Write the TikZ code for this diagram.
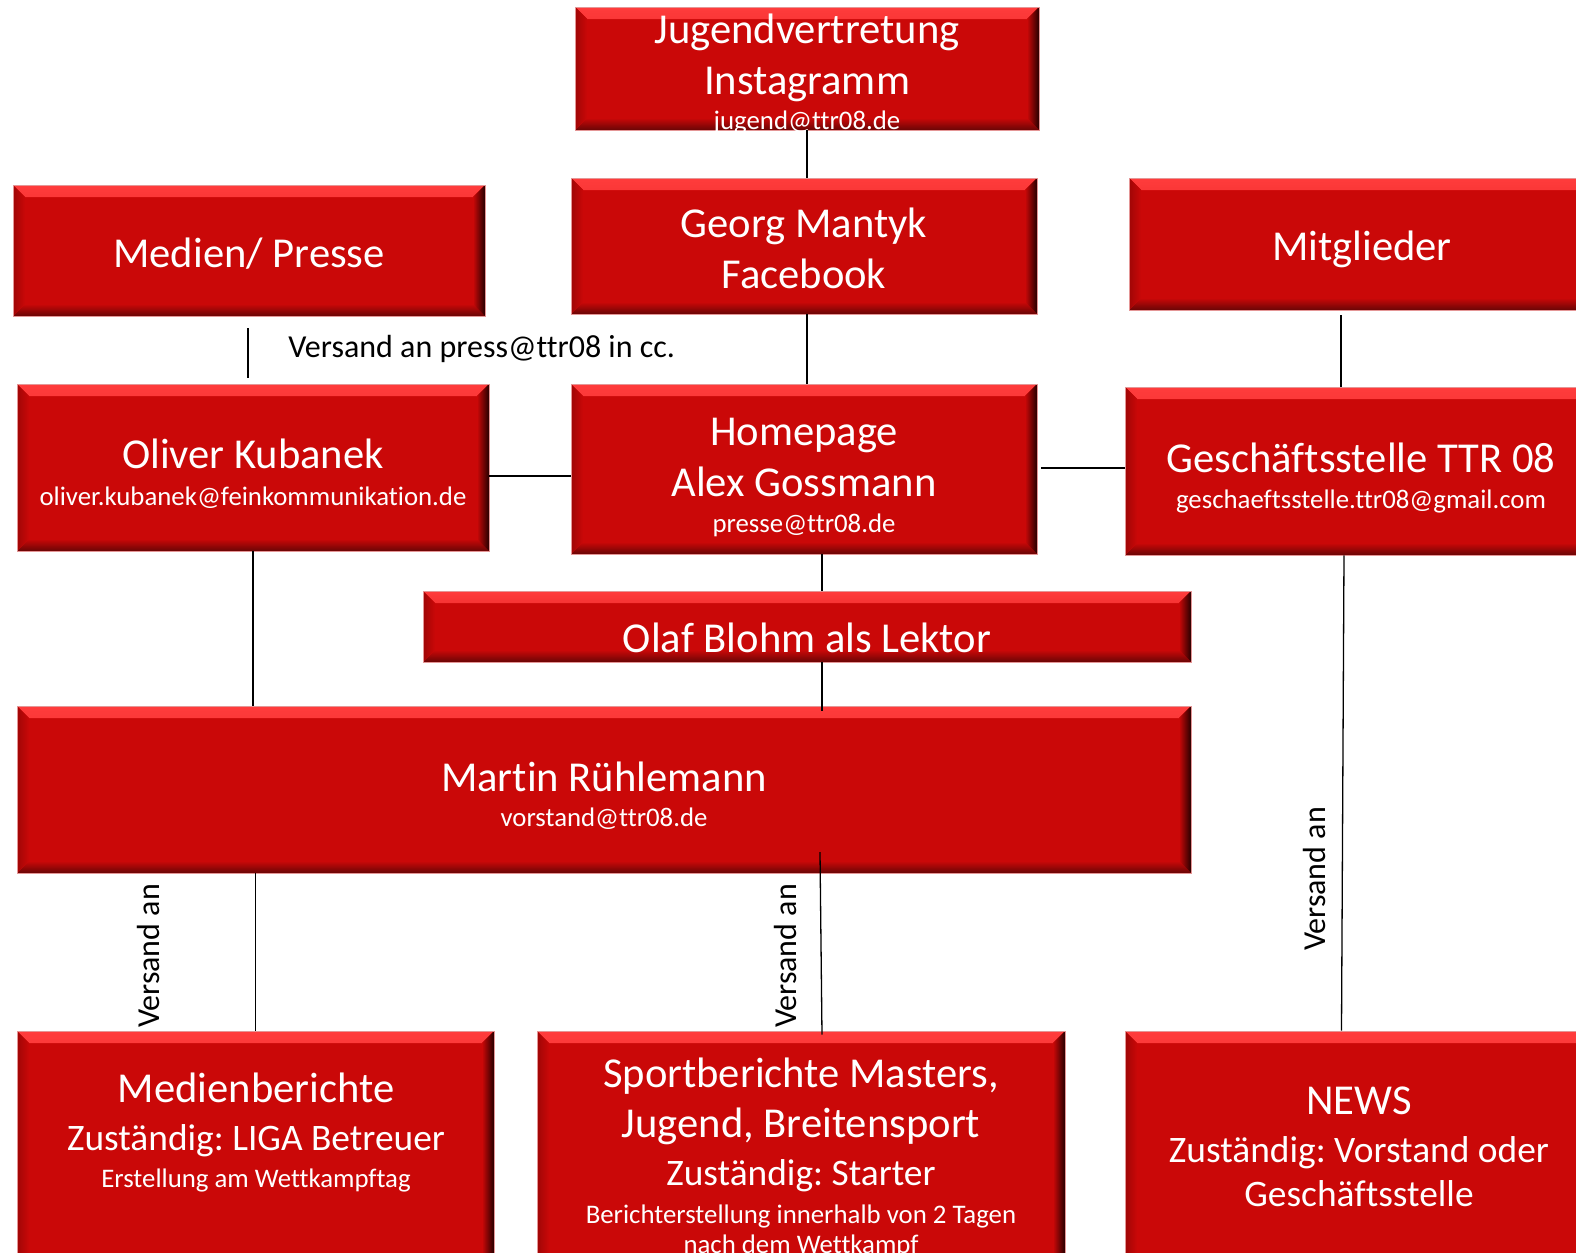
\documentclass[tikz,border=0pt]{standalone}
\usepackage{fontspec}
\setmainfont{Carlito}[Ligatures={NoCommon,NoContextual}]
\usetikzlibrary{calc}
\frenchspacing
\definecolor{boxred}{RGB}{202,8,8}
\definecolor{bevlight}{RGB}{255,60,60}
\definecolor{bevdark}{RGB}{105,5,5}
\definecolor{bevside}{RGB}{160,6,6}
\definecolor{boxedge}{RGB}{228,150,150}
\newcommand\FontL{\fontsize{21.3}{25.5}\selectfont}
\newcommand\FontM{\fontsize{18.7}{22}\selectfont}
\newcommand\FontS{\fontsize{13.4}{15}\selectfont}
\newcommand\FontV{\fontsize{16}{18}\selectfont}
% strut that lowers a box text by #1 (pt)
\newcommand\dn[1]{\rule{0pt}{\dimexpr 15.5pt+2\dimexpr #1pt\relax\relax}}
\tikzset{
 redbox/.style={rectangle, fill=boxred, draw=boxedge, line width=0.4pt, inner sep=0pt,
  text=white, align=center, font=\FontL,
  path picture={
   \fill[top color=bevlight, bottom color=boxred] (path picture bounding box.north west) -- (path picture bounding box.north east) -- ([xshift=-6pt,yshift=-6pt]path picture bounding box.north east) -- ([xshift=6pt,yshift=-6pt]path picture bounding box.north west) -- cycle;
   \fill[top color=boxred, bottom color=bevdark] (path picture bounding box.south west) -- (path picture bounding box.south east) -- ([xshift=-6pt,yshift=6pt]path picture bounding box.south east) -- ([xshift=6pt,yshift=6pt]path picture bounding box.south west) -- cycle;
   \fill[left color=boxred, right color=black!85!red] (path picture bounding box.north east) -- (path picture bounding box.south east) -- ([xshift=-6pt,yshift=6pt]path picture bounding box.south east) -- ([xshift=-6pt,yshift=-6pt]path picture bounding box.north east) -- cycle;
   \fill[left color=bevside, right color=boxred] (path picture bounding box.north west) -- (path picture bounding box.south west) -- ([xshift=6pt,yshift=6pt]path picture bounding box.south west) -- ([xshift=6pt,yshift=-6pt]path picture bounding box.north west) -- cycle;
  }},
 txt/.style={text=white, align=center, font=\FontL, inner sep=0pt},
 conn/.style={draw=black, line width=0.65pt},
 lbl/.style={font=\FontV, inner sep=0pt, text=black},
}
\begin{document}
\begin{tikzpicture}[x=0.5pt,y=-0.5pt]
\useasboundingbox (0,0) rectangle (1576,1253);
\clip (0,0) rectangle (1576,1253);
\fill[white] (0,0) rectangle (1576,1253);

% boxes
\node[redbox, minimum width=232pt, minimum height=61.5pt] (jug) at (807,68.5) {};
\node[redbox, minimum width=236pt, minimum height=65.5pt] (medien) at (249,250.5) {\dn{1}Medien/ Presse};
\node[redbox, minimum width=233pt, minimum height=68pt] (georg) at (804,246) {\dn{1}Georg Mantyk\\Facebook};
\node[redbox, minimum width=233pt, minimum height=66pt] (mitgl) at (1362,244) {\dn{2.5}Mitglieder};
\node[redbox, minimum width=236pt, minimum height=83.5pt] (oliver) at (253,467.5)
  {\dn{3}Oliver Kubanek\\[-7pt]{\FontS oliver.kubanek@feinkommunikation.de}};
\node[redbox, minimum width=233pt, minimum height=85pt] (home) at (804,469)
  {\dn{3.5}Homepage\\Alex Gossmann\\[-7.5pt]{\FontS presse@ttr08.de}};
\node[redbox, minimum width=236pt, minimum height=84pt] (gs) at (1361,471)
  {\dn{3}Geschäftsstelle TTR 08\\[-7.5pt]{\FontS geschaeftsstelle.ttr08@gmail.com}};
\node[redbox, minimum width=384pt, minimum height=35.5pt] (olaf) at (807,626.5) {\dn{5.5}Olaf Blohm als Lektor};
\node[redbox, minimum width=587pt, minimum height=83.5pt] (martin) at (604,789.5)
  {\dn{3}Martin Rühlemann\\[-8pt]{\FontS vorstand@ttr08.de}};
\node[redbox, minimum width=238.5pt, minimum height=134.5pt] (medb) at (255.5,1165.5) {};
\node[redbox, minimum width=264pt, minimum height=134.5pt] (sport) at (801,1165.5) {};
\node[redbox, minimum width=237.5pt, minimum height=134.5pt] (news) at (1362.5,1165.5) {};

% texts placed in boxes whose text is not centred
\node[txt] (jugt) at (807,65)
  {\dn{4}Jugendvertretung\\Instagramm\\[-8pt]{\FontS jugend@ttr08.de}};
\node[txt] (medbt) at (256,1133)
  {Medienberichte\\[-1.5pt]{\FontM Zuständig: LIGA Betreuer}\\[-7pt]{\FontS Erstellung am Wettkampftag}};
\node[txt] (sportt) at (801,1158)
  {Sportberichte Masters,\\[-0.5pt]Jugend, Breitensport\\[-1.5pt]{\FontM Zuständig: Starter}\\[-6.5pt]{\FontS Berichterstellung innerhalb von 2 Tagen}\\[-10.5pt]{\FontS nach dem Wettkampf}};
\node[txt] (newst) at (1359,1147)
  {NEWS\\[-1.5pt]{\FontM Zuständig: Vorstand oder}\\[-3.5pt]{\FontM Geschäftsstelle}};

% labels
\node[lbl, anchor=west] (cc) at (288,349) {Versand an press@ttr08 in cc.};
\node[lbl, rotate=90] (v1) at (149,956) {Versand an};
\node[lbl, rotate=90] (v2) at (786,956) {Versand an};
\node[lbl, rotate=90] (v3) at (1314,879) {Versand an};

% connectors
\coordinate (hy) at (0,476);
\coordinate (gy) at (0,468);
\coordinate (mx) at (1341,0);
\coordinate (cx) at (822,0);
\coordinate (s0) at (820,852);
\draw[conn] (jug.south) -- (jug.south |- georg.north);
\draw[conn] (jug.south |- georg.south) -- (jug.south |- home.north);
\draw[conn] ($(medien.south)+(-1,12)$) -- ($(medien.south |- oliver.north)+(-1,-6)$);
\draw[conn] (oliver.east |- hy) -- (home.west |- hy);
\draw[conn] ($(home.east |- gy)+(4,0)$) -- (gs.west |- gy);
\draw[conn] ($(mitgl.south -| mx)+(0,5)$) -- (gs.north -| mx);
\draw[conn] (home.south -| cx) -- (olaf.north -| cx);
\draw[conn] (olaf.south -| cx) -- ($(martin.north -| cx)+(0,5)$);
\draw[conn] (oliver.south) -- (oliver.south |- martin.north);
\draw[conn] (medb.north |- martin.south) -- (medb.north);
\draw[conn] (s0) -- ($(sport.north)+(21,4)$);
\draw[conn] ($(gs.south)+(-17,0)$) -- ($(news.north)+(-21,0)$);
\end{tikzpicture}
\end{document}
